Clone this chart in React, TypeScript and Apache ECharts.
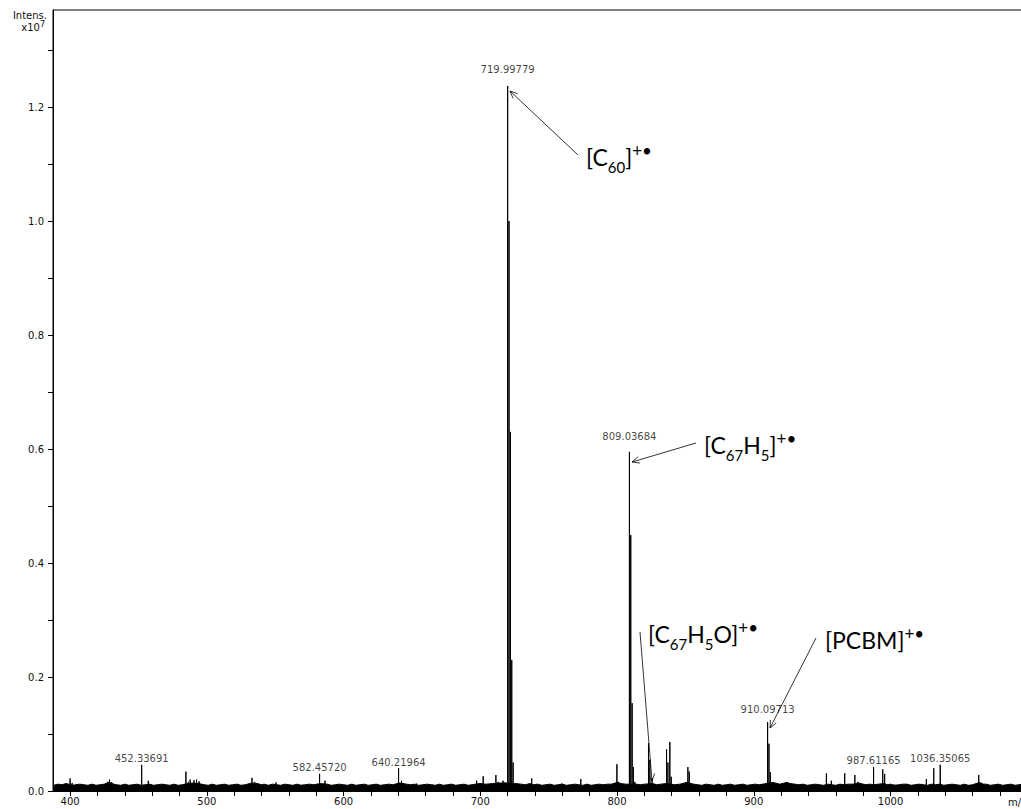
import React, { useEffect, useRef } from "react";
import * as echarts from "echarts";

// ---- axis ticks / labels ----
const xTickValues = [400, 420, 440, 460, 480, 500, 520, 540, 560, 580, 600, 620, 640, 660, 680, 700, 720, 740, 760, 780, 800, 820, 840, 860, 880, 900, 920, 940, 960, 980, 1000, 1020, 1040, 1060, 1080, 1100];
const xLabelValues = [400, 500, 600, 700, 800, 900, 1000];
const yTickValues = [0, 0.1, 0.2, 0.3, 0.4, 0.5, 0.6, 0.7, 0.8, 0.9, 1.0, 1.1, 1.2, 1.3];
const yLabelValues = [0, 0.2, 0.4, 0.6, 0.8, 1.0, 1.2];

// ---- spectrum peaks: [m/z, intensity (x1e7)] ----
const c60Peaks: [number, number][] = [
  [720.0, 1.237], [721.0, 1.0], [722.0, 0.63], [723.0, 0.23], [724.0, 0.05], [725.0, 0.014],
];
const c67h5Peaks: [number, number][] = [
  [809.04, 0.595], [810.04, 0.449], [811.04, 0.154], [812.04, 0.042], [813.0, 0.016],
];
const c67h5oPeaks: [number, number][] = [
  [823.0, 0.084], [824.0, 0.055], [825.6, 0.022], [826.5, 0.012],
  [836.2, 0.073], [837.2, 0.05], [838.6, 0.086], [839.6, 0.025],
  [850.0, 0.015], [851.8, 0.042], [852.8, 0.034], [853.8, 0.013],
];
const pcbmPeaks: [number, number][] = [
  [910.1, 0.121], [911.1, 0.083], [912.1, 0.033], [913.2, 0.014],
];
const minorPeaks: [number, number][] = [
  [400.0, 0.022], [401.5, 0.014], [405.0, 0.012], [427.5, 0.016], [428.8, 0.02], [430.0, 0.014],
  [452.34, 0.046], [457.2, 0.018], [459.0, 0.012], [484.7, 0.034], [486.5, 0.016], [487.8, 0.02],
  [490.6, 0.019], [492.5, 0.02], [494.3, 0.017], [496.0, 0.012], [511.0, 0.011], [533.0, 0.023],
  [535.0, 0.016], [537.0, 0.012], [550.6, 0.015], [570.0, 0.011], [582.46, 0.03], [586.4, 0.018],
  [640.22, 0.04], [642.4, 0.018], [645.0, 0.012], [653.3, 0.013], [665.0, 0.011], [697.3, 0.018],
  [700.5, 0.014], [702.1, 0.026], [711.4, 0.028], [713.0, 0.016], [716.6, 0.018], [718.0, 0.015],
  [736.5, 0.012], [737.6, 0.022], [759.6, 0.013], [773.5, 0.021], [799.9, 0.047], [801.0, 0.016],
  [805.0, 0.013], [923.9, 0.015], [925.0, 0.012], [934.4, 0.012], [953.1, 0.031], [956.7, 0.018],
  [966.5, 0.031], [973.9, 0.028], [976.0, 0.016], [987.61, 0.042], [994.3, 0.038], [995.7, 0.03],
  [1003.0, 0.011], [1011.6, 0.012], [1020.6, 0.012], [1026.2, 0.021], [1031.6, 0.04],
  [1036.35, 0.046], [1064.5, 0.028], [1066.0, 0.014], [1080.0, 0.01],
];

// ---- baseline noise band: [m/z, intensity] ----
const baselineNoise: [number, number][] = [
  [388, 0.010], [391, 0.012], [394, 0.011], [397, 0.013], [399, 0.012], [402, 0.010], [404, 0.011],
  [407, 0.012], [410, 0.011], [413, 0.010], [416, 0.012], [419, 0.010], [422, 0.011], [425, 0.012],
  [427, 0.014], [430, 0.015], [432, 0.012], [434, 0.011], [437, 0.010], [440, 0.012], [443, 0.010],
  [446, 0.011], [449, 0.012], [452, 0.010], [455, 0.011], [458, 0.012], [461, 0.010], [464, 0.011],
  [467, 0.012], [470, 0.011], [473, 0.010], [476, 0.012], [479, 0.010], [482, 0.011], [486, 0.013],
  [490, 0.014], [494, 0.013], [498, 0.011], [501, 0.010], [504, 0.012], [507, 0.010], [510, 0.011],
  [513, 0.012], [516, 0.010], [519, 0.011], [522, 0.012], [525, 0.010], [528, 0.011], [533, 0.014],
  [537, 0.013], [540, 0.011], [542, 0.012], [545, 0.010], [548, 0.012], [551, 0.011], [554, 0.010],
  [557, 0.012], [560, 0.011], [563, 0.010], [566, 0.012], [569, 0.010], [572, 0.011], [575, 0.012],
  [578, 0.011], [583, 0.013], [588, 0.012], [591, 0.010], [594, 0.011], [597, 0.012], [600, 0.011],
  [603, 0.010], [606, 0.012], [609, 0.010], [612, 0.011], [615, 0.012], [618, 0.010], [621, 0.011],
  [624, 0.012], [627, 0.010], [630, 0.011], [633, 0.012], [636, 0.011], [641, 0.014], [646, 0.012],
  [649, 0.011], [652, 0.012], [655, 0.010], [658, 0.011], [661, 0.012], [664, 0.011], [667, 0.010],
  [670, 0.012], [673, 0.010], [676, 0.011], [679, 0.012], [682, 0.010], [685, 0.011], [688, 0.012],
  [691, 0.010], [694, 0.011], [699, 0.013], [704, 0.012], [709, 0.013], [714, 0.014], [718, 0.014],
  [726, 0.013], [730, 0.012], [733, 0.011], [736, 0.013], [739, 0.011], [742, 0.012], [745, 0.010],
  [748, 0.011], [751, 0.012], [754, 0.010], [757, 0.011], [760, 0.012], [763, 0.010], [766, 0.011],
  [769, 0.012], [772, 0.011], [775, 0.010], [778, 0.012], [781, 0.010], [784, 0.011], [787, 0.012],
  [790, 0.011], [793, 0.012], [796, 0.012], [800, 0.015], [805, 0.012], [814, 0.012], [817, 0.011],
  [820, 0.012], [826, 0.013], [829, 0.011], [832, 0.012], [836, 0.013], [842, 0.011], [846, 0.012],
  [851, 0.015], [856, 0.012], [859, 0.011], [862, 0.010], [865, 0.012], [868, 0.011], [871, 0.010],
  [874, 0.012], [877, 0.010], [880, 0.011], [883, 0.012], [886, 0.010], [889, 0.011], [892, 0.012],
  [895, 0.010], [898, 0.011], [901, 0.012], [904, 0.011], [914, 0.015], [919, 0.012], [924, 0.015],
  [927, 0.013], [930, 0.012], [933, 0.011], [936, 0.012], [939, 0.010], [942, 0.011], [945, 0.012],
  [948, 0.011], [951, 0.010], [954, 0.012], [957, 0.011], [960, 0.010], [963, 0.012], [966, 0.011],
  [969, 0.012], [972, 0.012], [977, 0.014], [980, 0.012], [982, 0.011], [985, 0.012], [988, 0.011],
  [991, 0.012], [995, 0.013], [998, 0.011], [1000, 0.012], [1003, 0.010], [1006, 0.011], [1009, 0.012],
  [1012, 0.012], [1015, 0.010], [1018, 0.011], [1021, 0.012], [1024, 0.011], [1027, 0.010],
  [1030, 0.012], [1033, 0.011], [1036, 0.012], [1039, 0.010], [1042, 0.011], [1045, 0.012],
  [1048, 0.011], [1051, 0.010], [1054, 0.012], [1057, 0.010], [1060, 0.011], [1065, 0.015],
  [1068, 0.012], [1070, 0.012], [1073, 0.010], [1076, 0.011], [1079, 0.012], [1082, 0.010],
  [1085, 0.011], [1088, 0.012], [1091, 0.010], [1094, 0.011], [1097, 0.012], [1100, 0.010],
];

// ---- peak labels ----
const labelMz = [719.99779, 809.03684, 910.09713, 452.33691, 582.4572, 640.21964, 987.61165, 1036.35065];
const labelIntensity = [1.237, 0.595, 0.121, 0.046, 0.03, 0.04, 0.042, 0.046];
const labelText = ["719.99779", "809.03684", "910.09713", "452.33691", "582.45720", "640.21964", "987.61165", "1036.35065"];
const labelGap = [11, 10, 8, 1, 1, 1, 2, 1];

const AX_FONT = "DejaVu Sans";
const ANN_FONT = "Lato";
const TXT = "#111";

function arrow(x1: number, y1: number, x2: number, y2: number) {
  const ang = Math.atan2(y2 - y1, x2 - x1);
  const L = 8;
  const a = 0.42;
  const p1 = [x2 - L * Math.cos(ang - a), y2 - L * Math.sin(ang - a)];
  const p2 = [x2 - L * Math.cos(ang + a), y2 - L * Math.sin(ang + a)];
  return [
    { type: "line", silent: true, shape: { x1, y1, x2, y2 }, style: { stroke: "#000", lineWidth: 0.8 } },
    { type: "polyline", silent: true, shape: { points: [p1, [x2, y2], p2] }, style: { stroke: "#000", fill: null, lineWidth: 0.8 } },
  ];
}

const annRich = {
  b: { fontFamily: ANN_FONT, fontSize: 23, lineHeight: 34, fill: "#000", verticalAlign: "middle" },
  s: { fontFamily: ANN_FONT, fontSize: 15, lineHeight: 15, fill: "#000", verticalAlign: "bottom" },
  p: { fontFamily: ANN_FONT, fontSize: 17, height: 20, lineHeight: 20, fill: "#000", verticalAlign: "top" },
};

function annotation(text: string, x: number, y: number) {
  return {
    type: "text",
    silent: true,
    x,
    y,
    style: { text, rich: annRich, align: "left", verticalAlign: "middle" },
  };
}

function buildOption() {
  const allPeaks = [...c60Peaks, ...c67h5Peaks, ...c67h5oPeaks, ...pcbmPeaks, ...minorPeaks].sort((a, b) => a[0] - b[0]);
  const sticks: number[][] = [];
  for (const [mz, h] of allPeaks) {
    sticks.push([mz, 0], [mz, h], [mz, 0]);
  }
  const labelData = labelMz.map((mz, i) => ({
    name: labelText[i],
    value: [mz, labelIntensity[i]],
    label: { distance: labelGap[i] },
  }));

  return {
    animation: false,
    backgroundColor: "#fff",
    grid: { left: 53, top: 10, right: 0, bottom: 18, show: true, borderColor: "#000", borderWidth: 1 },
    xAxis: {
      type: "value",
      min: 387.5,
      max: 1102,
      splitLine: { show: false },
      axisLine: { show: true, lineStyle: { color: "#000", width: 1 } },
      axisTick: { show: true, length: 5, lineStyle: { color: "#000" }, customValues: xTickValues },
      axisLabel: {
        customValues: xLabelValues,
        fontFamily: AX_FONT,
        fontSize: 10,
        color: TXT,
        margin: 5,
        formatter: (v: number) => String(v),
      },
    },
    yAxis: {
      type: "value",
      min: 0,
      max: 1.3702,
      splitLine: { show: false },
      axisLine: { show: true, lineStyle: { color: "#000", width: 1 } },
      axisTick: { show: true, length: 5, lineStyle: { color: "#000" }, customValues: yTickValues },
      axisLabel: {
        customValues: yLabelValues,
        fontFamily: AX_FONT,
        fontSize: 10,
        color: TXT,
        margin: 9,
        formatter: (v: number) => v.toFixed(1),
      },
    },
    series: [
      {
        type: "line",
        data: baselineNoise,
        showSymbol: false,
        silent: true,
        lineStyle: { color: "#000", width: 1 },
        areaStyle: { color: "#000", opacity: 1 },
        z: 2,
      },
      {
        type: "line",
        data: sticks,
        showSymbol: false,
        silent: true,
        lineStyle: { color: "#000", width: 1 },
        z: 3,
      },
      {
        type: "scatter",
        data: labelData,
        symbolSize: 0,
        silent: true,
        label: {
          show: true,
          position: "top",
          formatter: "{b}",
          fontFamily: AX_FONT,
          fontSize: 10,
          color: TXT,
        },
        z: 4,
      },
    ],
    graphic: [
      {
        type: "text",
        silent: true,
        x: 47,
        y: 15,
        style: { text: "Intens.", fontFamily: AX_FONT, fontSize: 10, fill: TXT, align: "right", verticalAlign: "middle" },
      },
      {
        type: "text",
        silent: true,
        x: 45,
        y: 27,
        style: {
          text: "{a|x10}{e|7}",
          align: "right",
          verticalAlign: "middle",
          rich: {
            a: { fontFamily: AX_FONT, fontSize: 10, lineHeight: 14, fill: TXT, verticalAlign: "middle" },
            e: { fontFamily: AX_FONT, fontSize: 8, lineHeight: 10, fill: TXT, verticalAlign: "top" },
          },
        },
      },
      {
        type: "text",
        silent: true,
        x: 1008,
        y: 802,
        style: { text: "m/z", fontFamily: AX_FONT, fontSize: 10, fill: TXT, align: "left", verticalAlign: "middle" },
      },
      annotation("{b|[C}{s|60}{b|]}{p|+•}", 586, 157),
      annotation("{b|[C}{s|67}{b|H}{s|5}{b|]}{p|+•}", 704, 445),
      annotation("{b|[C}{s|67}{b|H}{s|5}{b|O]}{p|+•}", 648, 634),
      annotation("{b|[PCBM]}{p|+•}", 825, 640),
      ...arrow(578, 155, 510, 91),
      ...arrow(696, 443, 632, 462),
      ...arrow(640, 632, 652, 781),
      ...arrow(816, 638, 770, 728),
    ],
  };
}

export default function App() {
  const ref = useRef<HTMLDivElement>(null);
  useEffect(() => {
    const chart = echarts.init(ref.current!, null, { renderer: "svg" });
    chart.setOption(buildOption() as any);
    return () => chart.dispose();
  }, []);
  return (
    <div
      ref={ref}
      style={{ position: "fixed", left: 0, top: 0, width: 1030, height: 809, background: "#fff" }}
    />
  );
}
